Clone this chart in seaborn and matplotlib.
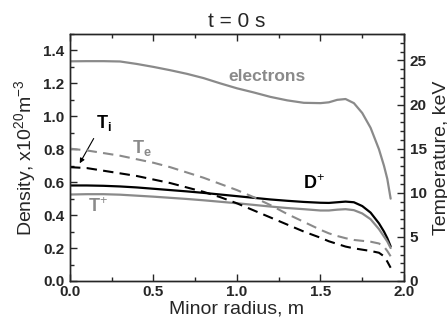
import matplotlib
matplotlib.use("Agg")
import matplotlib.pyplot as plt
import seaborn as sns

# Minor radius grid (m)
radius = [0.0, 0.1, 0.2, 0.3, 0.4, 0.5, 0.6, 0.7, 0.8, 0.9, 1.0, 1.1, 1.2, 1.3,
          1.4, 1.5, 1.55, 1.6, 1.65, 1.7, 1.75, 1.8, 1.85, 1.88, 1.9, 1.92]

# Densities (x10^20 m^-3), left axis
n_electrons = [1.334, 1.335, 1.335, 1.333, 1.318, 1.300, 1.280, 1.258, 1.232, 1.200,
               1.170, 1.145, 1.118, 1.097, 1.082, 1.080, 1.085, 1.100, 1.105, 1.080,
               1.020, 0.930, 0.800, 0.700, 0.620, 0.500]
n_deuterium = [0.580, 0.580, 0.578, 0.574, 0.568, 0.560, 0.552, 0.544, 0.535, 0.525,
               0.515, 0.505, 0.495, 0.487, 0.480, 0.475, 0.474, 0.478, 0.482, 0.478,
               0.455, 0.415, 0.350, 0.300, 0.260, 0.210]
n_tritium = [0.525, 0.527, 0.527, 0.524, 0.518, 0.512, 0.505, 0.498, 0.490, 0.481,
             0.472, 0.462, 0.452, 0.443, 0.436, 0.428, 0.428, 0.433, 0.436, 0.430,
             0.410, 0.375, 0.315, 0.270, 0.240, 0.200]

# Temperatures (keV), right axis
t_electron = [15.0, 14.8, 14.5, 14.2, 13.8, 13.4, 12.9, 12.3, 11.7, 11.0,
              10.3, 9.5, 8.6, 7.6, 6.7, 5.8, 5.4, 5.1, 4.85, 4.65,
              4.55, 4.45, 4.25, 3.9, 3.4, 2.8]
t_ion = [12.9, 12.8, 12.5, 12.2, 11.9, 11.5, 11.1, 10.6, 10.1, 9.5,
         8.8, 8.0, 7.2, 6.4, 5.6, 4.9, 4.5, 4.2, 3.9, 3.7,
         3.55, 3.4, 3.2, 2.8, 2.2, 1.5]

sns.set_style("ticks")
plt.rcParams["font.family"] = ["Liberation Sans", "DejaVu Sans"]
plt.rcParams["mathtext.fontset"] = "custom"
plt.rcParams["mathtext.rm"] = "Liberation Sans"
plt.rcParams["mathtext.it"] = "Liberation Sans:bold"
plt.rcParams["mathtext.bf"] = "Liberation Sans:bold"

gray = "#8a8a8a"

fig = plt.figure(figsize=(4.47, 3.29), dpi=100)
ax = fig.add_axes([0.1566, 0.146, 0.7472, 0.7507])
ax2 = ax.twinx()

sns.lineplot(x=radius, y=n_electrons, ax=ax, color=gray, lw=1.6)
sns.lineplot(x=radius, y=n_deuterium, ax=ax, color="black", lw=1.6)
sns.lineplot(x=radius, y=n_tritium, ax=ax, color=gray, lw=1.6)
sns.lineplot(x=radius, y=t_electron, ax=ax2, color=gray, lw=1.5, linestyle=(0, (5, 3)))
sns.lineplot(x=radius, y=t_ion, ax=ax2, color="black", lw=1.5, linestyle=(0, (5, 3)))

ax.set_xlim(0, 2.0)
ax.set_ylim(0, 1.5)
ax2.set_ylim(0, 28)
ax.set_xticks([0.0, 0.5, 1.0, 1.5, 2.0])
ax.set_xticks([0.25, 0.75, 1.25, 1.75], minor=True)
ax.set_yticks([0.0, 0.2, 0.4, 0.6, 0.8, 1.0, 1.2, 1.4])
ax.set_yticks([0.1, 0.3, 0.5, 0.7, 0.9, 1.1, 1.3, 1.5], minor=True)
ax2.set_yticks([0, 5, 10, 15, 20, 25])
ax2.set_yticks([k for k in range(0, 29) if k % 5], minor=True)
ax.set_xticklabels(["0.0", "0.5", "1.0", "1.5", "2.0"])
ax.set_yticklabels(["0.0", "0.2", "0.4", "0.6", "0.8", "1.0", "1.2", "1.4"])

ax.tick_params(which="both", direction="in", top=True, right=False)
ax.tick_params(which="major", length=5, width=1, labelsize=11)
ax.tick_params(axis="x", which="major", pad=3)
ax.tick_params(axis="y", which="major", pad=4)
ax.tick_params(which="minor", length=3, width=1)
ax2.tick_params(which="both", direction="in")
ax2.tick_params(which="major", length=5, width=1, labelsize=11, pad=4)
ax2.tick_params(which="minor", length=3, width=1)
for lab in ax.get_xticklabels() + ax.get_yticklabels() + ax2.get_yticklabels():
    lab.set_fontweight("bold")
for a in (ax, ax2):
    for s in a.spines.values():
        s.set_visible(True)
        s.set_linewidth(1.0)

ax.set_xlabel("Minor radius, m", fontsize=14, labelpad=1)
ax.set_ylabel("Density, x10$^{20}$m$^{-3}$", fontsize=14, labelpad=4)
ax2.set_ylabel("Temperature, keV", fontsize=14, labelpad=5)
ax.set_title("t = 0 s", fontsize=15, pad=5)

ax.text(1.18, 1.24, "electrons", color=gray, fontsize=12.5, fontweight="bold",
        ha="center", va="center")
ax.text(1.46, 0.59, "D$^{+}$", color="black", fontsize=13, fontweight="bold",
        ha="center", va="center")
ax.text(0.17, 0.45, "T$^{+}$", color=gray, fontsize=13, fontweight="bold",
        ha="center", va="center")
ax.text(0.43, 0.81, "T$_{e}$", color=gray, fontsize=13, fontweight="bold",
        ha="center", va="center")
ax.text(0.2, 0.96, "T$_{i}$", color="black", fontsize=13, fontweight="bold",
        ha="center", va="center")
ax.annotate("", xy=(0.05, 0.70), xytext=(0.15, 0.88),
            arrowprops=dict(arrowstyle="-|>", color="black", lw=0.8,
                            mutation_scale=7))

fig.savefig("out.png", dpi=100)
